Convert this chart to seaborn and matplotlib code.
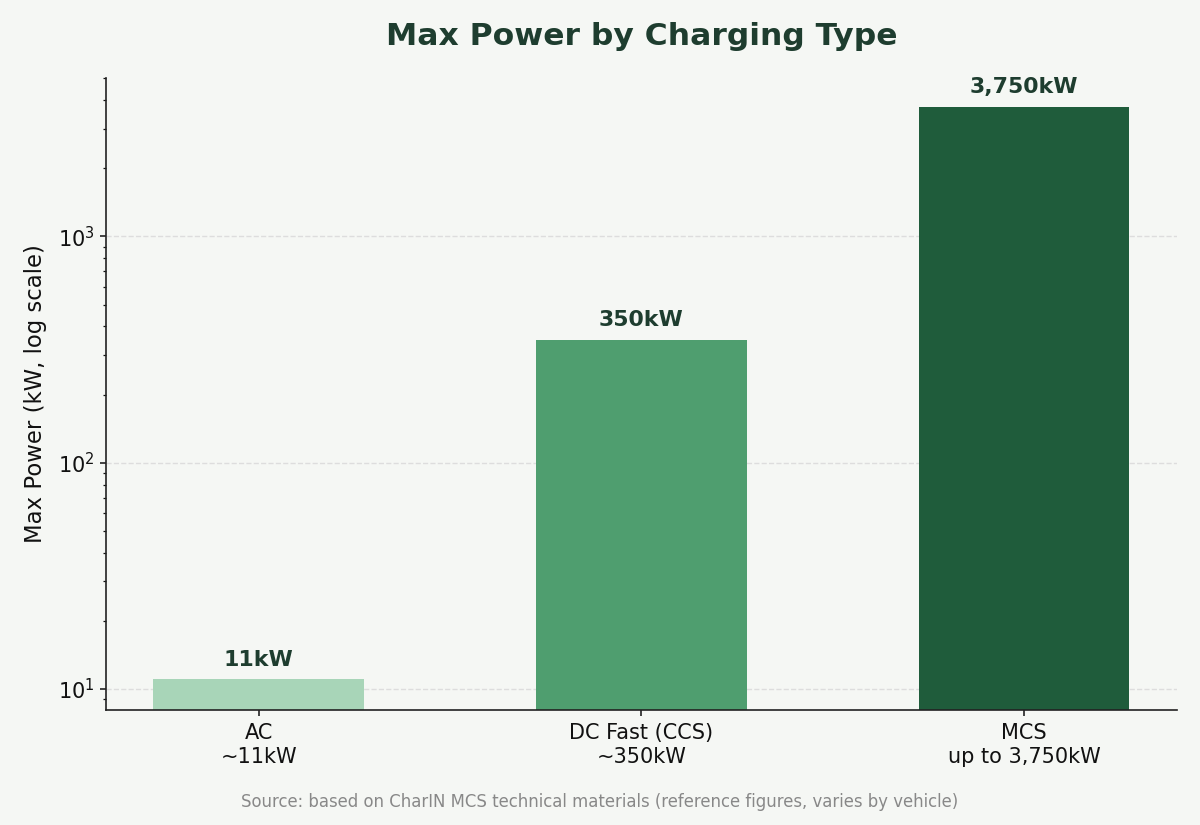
import numpy as np
import pandas as pd
import seaborn as sns
import matplotlib.pyplot as plt

# chart data
categories = ['AC\n~11kW', 'DC Fast (CCS)\n~350kW', 'MCS\nup to 3,750kW']
power_kw = [11, 350, 3750]
value_labels = ['11kW', '350kW', '3,750kW']
bar_colors = ['#a8d5b8', '#4f9e6f', '#1f5c3b']

bg = '#f5f7f4'
dark = '#1e3d2f'

sns.set_theme(style='white')
plt.rcParams['font.family'] = ['DejaVu Sans']

df = pd.DataFrame({'type': categories, 'power': power_kw})

fig, ax = plt.subplots(figsize=(12, 8.25), dpi=100)
fig.patch.set_facecolor(bg)
ax.set_facecolor(bg)

sns.barplot(data=df, x='type', y='power', hue='type', palette=bar_colors,
            width=0.55, legend=False, ax=ax, saturation=1,
            edgecolor='none', linewidth=0)
ax.set_yscale('log')
ax.set_ylim(8.1, 5000)
ax.set_xlim(-0.4, 2.4)

for i, (v, lab) in enumerate(zip(power_kw, value_labels)):
    ax.text(i, v * 1.1, lab, ha='center', va='bottom',
            fontsize=15.8, fontweight='bold', color=dark)

ax.yaxis.grid(True, which='major', linestyle='--', color='#dddddd', linewidth=1)
ax.set_axisbelow(True)
sns.despine(ax=ax)
for s in ['left', 'bottom']:
    ax.spines[s].set_color('#222222')
    ax.spines[s].set_linewidth(1.2)

ax.tick_params(axis='both', which='major', labelsize=15, colors='#111111',
               length=4.5, width=1.1, left=True, bottom=True)
ax.tick_params(axis='x', pad=5.5)
ax.tick_params(axis='y', which='minor', length=2.5, width=0.9, left=True,
               color='#111111')
ax.set_xlabel('')
ax.set_ylabel('Max Power (kW, log scale)', fontsize=16.4, color='#111111',
              labelpad=8)
ax.set_title('Max Power by Charging Type', fontsize=22.6, fontweight='bold',
             color=dark, pad=24)

fig.text(0.5, 0.022, 'Source: based on CharIN MCS technical materials (reference figures, varies by vehicle)',
         ha='center', fontsize=11.9, color='#888888')

plt.subplots_adjust(left=0.088, right=0.981, top=0.905, bottom=0.14)
plt.savefig('out.png', facecolor=bg)
